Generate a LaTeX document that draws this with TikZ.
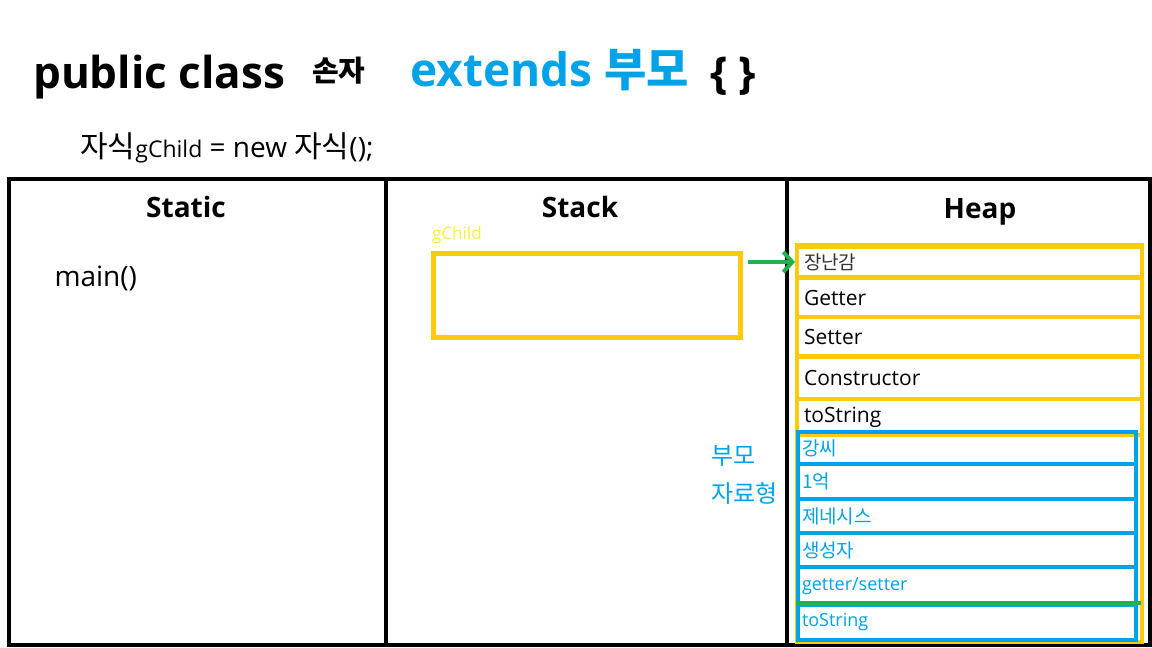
\documentclass[tikz,border=0pt]{standalone}
\usepackage{fontspec}
\setmainfont{Open Sans}
\newfontfamily\kr{Noto Sans CJK KR}
\usetikzlibrary{arrows.meta}
\definecolor{ybox}{HTML}{FFC90E}
\definecolor{gline}{HTML}{22B14C}
\definecolor{bline}{HTML}{00A2E8}
\definecolor{ylabel}{HTML}{F9F03A}
\newcommand\pxsize[1]{\fontsize{#1}{#1}\selectfont}
\begin{document}
\begin{tikzpicture}[x=1pt,y=-1pt,
  panel/.style={draw=black,line width=4pt,anchor=north west,minimum height=466pt,inner sep=0pt},
  hdr/.style={font=\bfseries\pxsize{28},anchor=base},
  hrow/.style={draw=ybox,line width=4pt,anchor=north west,text width=331pt,inner xsep=7pt,inner ysep=0pt,align=left,font=\pxsize{21}},
  brow/.style={draw=bline,line width=4pt,anchor=north west,text width=330pt,inner xsep=4pt,inner ysep=0pt,align=left,text=bline,font=\pxsize{18}},
  bkr/.style={font=\kr\pxsize{19}}]
\useasboundingbox[fill=white] (0,0) rectangle (1152,648);
% title
\node[anchor=base west,inner sep=0pt,font=\bfseries\pxsize{44}] (pc) at (33,88) {public class};
\node[anchor=base west,inner sep=0pt,font=\kr\bfseries\pxsize{29}] (sonja) at (312,81) {손자};
\node[anchor=base west,inner sep=0pt,font=\bfseries\pxsize{46},text=bline] (ext) at (410,86) {extends {\kr 부모}};
\node[anchor=base west,inner sep=0pt,font=\bfseries\pxsize{44}] (brc) at (710,88) {\{ \}};
\node[anchor=base west,inner sep=0pt,font=\pxsize{28}] (decl) at (80,157) {{\kr\pxsize{30}자식}{\pxsize{23}gChild} = new {\kr\pxsize{30}자식}();};
% panels
\node[panel,minimum width=377pt] (static) at (7,177) {};
\node[panel,minimum width=401pt] (stack) at (384,177) {};
\node[panel,minimum width=363pt] (heap) at (785,177) {};
\node[hdr] (hs) at (186,217) {Static};
\node[hdr] (hk) at (580,217) {Stack};
\node[hdr] (hh) at (980,218) {Heap};
\node[anchor=west,font=\pxsize{28}] (mainf) at (51,278) {main()};
% stack
\node[draw=ybox,line width=5pt,minimum width=307pt,minimum height=84pt,anchor=north west] (stk) at (431,251) {};
\node[anchor=south west,inner sep=0pt,text=ylabel,font=\pxsize{17}] (gl) at (432,244) {gChild};
% heap yellow
\node[draw=ybox,line width=4pt,minimum width=345pt,minimum height=397pt,anchor=north west] (hy) at (795,243) {};
\node[hrow,minimum height=30pt,font=\kr\pxsize{19},text=black!80] (r1) at (795,245) {장난감};
\node[hrow,minimum height=39pt] (r2) at (795,276) {Getter};
\node[hrow,minimum height=39pt] (r3) at (795,315) {Setter};
\node[hrow,minimum height=42pt] (r4) at (795,355) {Constructor};
\node[hrow,minimum height=36pt] (r5) at (795,397) {toString};
% heap blue
\node[brow,minimum height=32pt,bkr] (b1) at (796,430) {강씨};
\node[brow,minimum height=35pt,bkr] (b2) at (796,462) {1억};
\node[brow,minimum height=34pt,bkr] (b3) at (796,497) {제네시스};
\node[brow,minimum height=34pt,bkr] (b4) at (796,531) {생성자};
\node[brow,minimum height=38pt] (b5) at (796,565) {getter/setter};
\node[brow,minimum height=35pt] (b6) at (796,603) {toString};
\draw[gline,line width=4pt] (b6.north west) -- ([xshift=3pt]b6.north east);
\node[anchor=west,inner sep=0pt,text=bline,font=\kr\pxsize{24}] (pm1) at (711,456) {부모};
\node[anchor=west,inner sep=0pt,text=bline,font=\kr\pxsize{24}] (pm2) at (711,493) {자료형};
% arrow
\draw[gline,line width=4pt,-{Straight Barb[length=9pt,width=20pt]}] ([xshift=5pt]stk.east |- r1.west) -- (r1.west);
\end{tikzpicture}
\end{document}
